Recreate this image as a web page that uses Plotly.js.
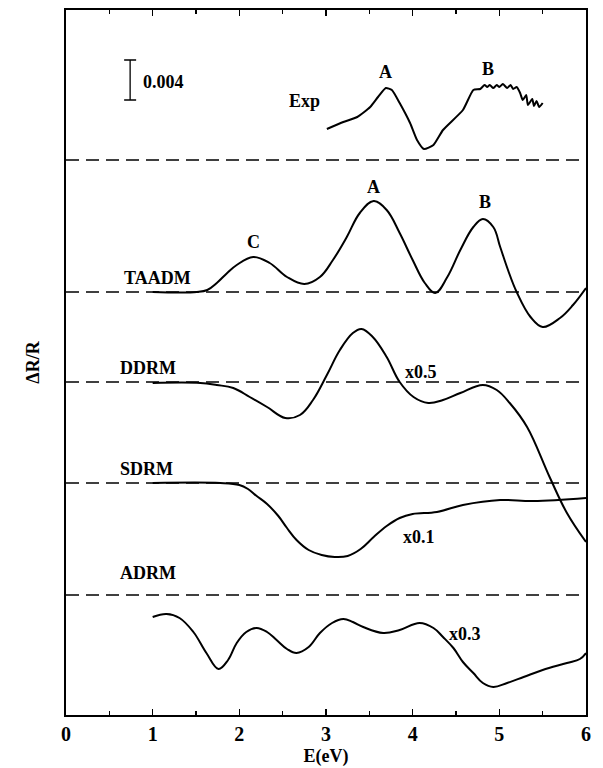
<!DOCTYPE html>
<html>
<head>
<meta charset="utf-8">
<script src="https://cdn.plot.ly/plotly-3.0.1.min.js"></script>
<style>html,body{margin:0;padding:0;background:#fff;}#chart{width:603px;height:768px;}</style>
</head>
<body>
<div id="chart"></div>
<script>
// Curves: deviation from each curve's own baseline, in units of 1e-3 (ΔR/R)
const expE   = [3.01,3.2,3.36,3.51,3.6,3.69,3.76,3.85,3.97,4.05,4.13,4.24,4.35,4.58,4.70,4.78,4.83,4.86,4.89,4.93,4.97,5.00,5.04,5.09,5.13,5.16,5.20,5.24,5.27,5.31,5.33,5.38,5.40,5.43,5.46,5.50];
const expVal = [3.1,3.8,4.3,5.3,6.3,7.2,7.0,5.7,3.7,2.0,1.1,1.5,3.0,5.0,7.0,7.1,7.5,7.3,7.5,7.2,7.5,7.3,7.6,7.2,7.5,7.1,7.3,6.7,6.0,6.5,5.5,6.1,5.4,5.9,5.3,5.7];

const taadmE   = [1.0,1.51,1.63,1.74,1.86,1.97,2.16,2.35,2.55,2.75,2.93,3.08,3.24,3.39,3.55,3.70,3.85,4.0,4.14,4.26,4.40,4.55,4.70,4.81,4.93,5.01,5.10,5.20,5.36,5.50,5.70,5.85,6.0];
const taadmVal = [0,0,0.2,0.9,1.9,2.7,3.5,2.9,1.5,0.8,1.5,3.2,5.5,7.9,9.1,8.2,5.9,3.2,0.9,-0.1,1.5,4.2,6.5,7.3,6.5,4.5,2.2,0,-2.5,-3.5,-2.6,-1.3,0.4];

const ddrmE   = [1.0,1.55,1.74,1.93,2.12,2.32,2.53,2.70,2.85,3.01,3.16,3.31,3.41,3.54,3.70,3.85,4.01,4.18,4.35,4.55,4.81,4.97,5.12,5.32,5.58,5.78,6.0];
const ddrmVal = [-0.1,-0.1,-0.3,-0.6,-1.5,-2.5,-3.6,-3.3,-1.8,0.7,3.2,4.9,5.3,4.5,2.5,0,-1.5,-2.1,-1.8,-1.1,-0.3,-0.8,-2.1,-4.5,-9.5,-13.1,-16.0];

const sdrmE   = [1.0,1.78,2.0,2.1,2.2,2.32,2.45,2.55,2.66,2.8,2.95,3.1,3.25,3.4,3.55,3.7,3.85,4.0,4.28,4.58,5.01,5.39,6.0];
const sdrmVal = [0,0,-0.2,-0.6,-1.3,-2.1,-3.3,-4.5,-5.7,-6.7,-7.2,-7.4,-7.3,-6.6,-5.4,-4.3,-3.5,-3.1,-2.9,-2.2,-1.7,-1.8,-1.5];

const adrmE   = [1.0,1.16,1.31,1.47,1.62,1.76,1.87,1.97,2.08,2.2,2.32,2.43,2.55,2.66,2.80,2.93,3.07,3.2,3.31,3.43,3.66,3.85,4.08,4.24,4.35,4.47,4.58,4.7,4.81,4.93,5.09,5.28,5.5,5.78,5.93,6.0];
const adrmVal = [-2.2,-1.9,-2.3,-3.7,-5.8,-7.4,-6.5,-4.8,-3.7,-3.3,-3.7,-4.5,-5.4,-5.8,-5.2,-3.8,-2.8,-2.4,-2.7,-3.2,-3.8,-3.5,-2.8,-3.3,-4.2,-5.3,-6.7,-7.8,-8.8,-9.2,-8.8,-8.2,-7.5,-6.8,-6.4,-5.8];

// Vertical offsets (baselines) of each curve, in the same units
const baselines = {Exp:55.5, TAADM:42.3, DDRM:33.3, SDRM:23.2, ADRM:12.0};
const curveNames = ['Exp','TAADM','DDRM','SDRM','ADRM'];
const scaleFactors = ['', '', 'x0.5', 'x0.1', 'x0.3'];
const xTicks = [0,1,2,3,4,5,6];
const scaleBar = 4; // 0.004 in units of 1e-3

const FONT = 'Liberation Serif';
const curves = [
  {n:'Exp', x:expE, v:expVal, smooth:0.5},
  {n:'TAADM', x:taadmE, v:taadmVal, smooth:1.1},
  {n:'DDRM', x:ddrmE, v:ddrmVal, smooth:1.1},
  {n:'SDRM', x:sdrmE, v:sdrmVal, smooth:1.1},
  {n:'ADRM', x:adrmE, v:adrmVal, smooth:1.1}
];

const traces = [];
curveNames.forEach(n => {
  traces.push({x:[0,6], y:[baselines[n],baselines[n]], mode:'lines',
    line:{color:'#000', width:1.6, dash:'13px,7px'}, hoverinfo:'skip', showlegend:false});
});
curves.forEach(c => {
  traces.push({x:c.x, y:c.v.map(d => d + baselines[c.n]), mode:'lines',
    line:{color:'#000', width:2, shape:'spline', smoothing:c.smooth}, showlegend:false, name:c.n});
});
// scale bar
traces.push({x:[0.74], y:[63.5], mode:'markers', marker:{size:1, color:'rgba(0,0,0,0)'},
  error_y:{type:'data', array:[scaleBar/2], symmetric:true, color:'#000', thickness:1.3, width:6},
  showlegend:false, hoverinfo:'skip'});

const ann = (x,y,t,xa) => ({x:x, y:y, text:'<b>'+t+'</b>', showarrow:false, xanchor:xa||'center', yanchor:'middle',
  font:{family:FONT, size:18, color:'#000'}});
const annotations = [
  ann(0.865, 63.3, '0.004', 'left'),
  ann(2.75, 61.4, 'Exp'),
  ann(3.69, 64.3, 'A'),
  ann(4.87, 64.6, 'B'),
  ann(2.16, 47.3, 'C'),
  ann(3.55, 52.8, 'A'),
  ann(4.83, 51.3, 'B'),
  ann(1.05, 43.7, 'TAADM'),
  ann(0.95, 34.7, 'DDRM'),
  ann(4.10, 34.3, scaleFactors[2]),
  ann(0.93, 24.6, 'SDRM'),
  ann(4.07, 17.8, scaleFactors[3]),
  ann(0.95, 14.2, 'ADRM'),
  ann(4.60, 8.1, scaleFactors[4])
];

const layout = {
  width:603, height:768,
  margin:{l:66, r:17, t:10, b:53},
  paper_bgcolor:'#fff', plot_bgcolor:'#fff',
  showlegend:false,
  font:{family:FONT, color:'#000'},
  xaxis:{range:[0,6], tickvals:xTicks, ticktext:xTicks.map(v => '<b>'+v+'</b>'), ticks:'inside', ticklen:6, tickwidth:1.2, tickcolor:'#000',
    minor:{dtick:0.5, ticks:'inside', ticklen:4, tickwidth:1.2, tickcolor:'#000'},
    showline:true, linewidth:2, linecolor:'#000', mirror:'ticks', showgrid:false, zeroline:false,
    tickfont:{family:FONT, size:20, color:'#000'},
    title:{text:'<b>E(eV)</b>', font:{family:FONT, size:18, color:'#000'}, standoff:5}},
  yaxis:{range:[0,70.5], showticklabels:false, ticks:'', showline:true, linewidth:2, linecolor:'#000',
    mirror:true, showgrid:false, zeroline:false, automargin:false,
    title:{text:'<b>ΔR/R</b>', font:{family:FONT, size:18, color:'#000'}, standoff:20}},
  annotations:annotations
};
Plotly.newPlot('chart', traces, layout, {staticPlot:true, displayModeBar:false});
</script>
</body>
</html>
